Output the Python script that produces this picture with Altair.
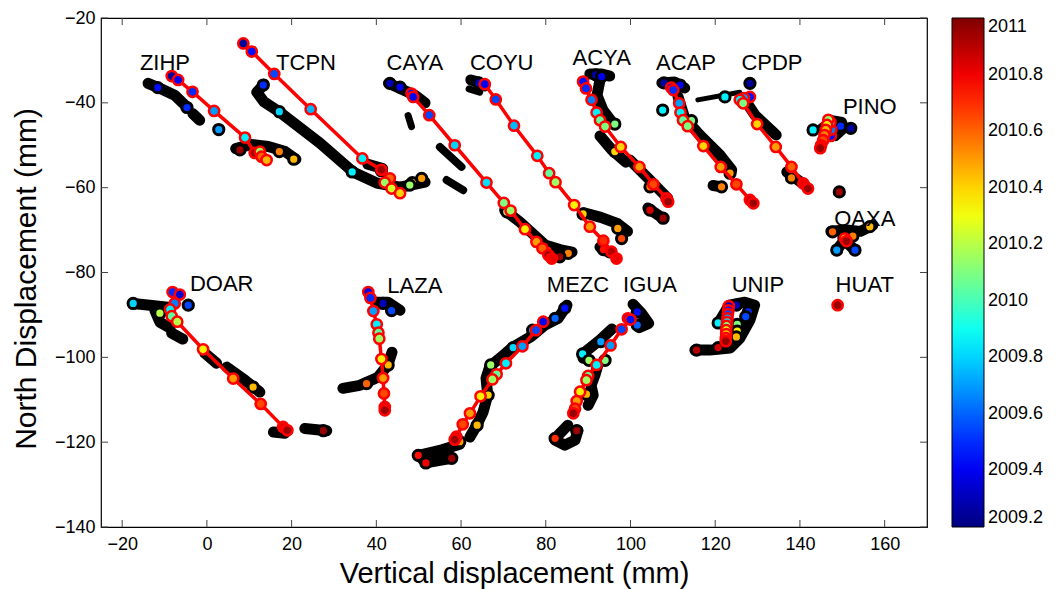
import altair as alt
import pandas as pd

# ---------------- data (mm, mm, decimal year) ----------------
ZIHP_BLACK = [[(-13.9, -35.4), (-11.5, -36.4), (-7.6, -38.2), (-4.8, -40.9)],
              [(-3.3, -42.6), (-1.7, -44.1)],
              [(6.8, -50.8), (10.5, -49.8), (14.5, -50.3), (18.5, -51.5), (21.0, -53.3)]]
ZIHP_PTS = [(-11.6, -36.4, 2009.45), (-4.7, -41.1, 2009.5), (2.8, -46.3, 2009.7),
            (7.8, -51.1, 2010.95), (17.1, -51.5, 2010.55), (20.5, -53.3, 2010.45)]
ZIHP_RED = [(-8.3, -33.7, 2009.25), (-6.8, -34.6, 2009.4), (-3.4, -37.4, 2009.5),
            (1.7, -41.9, 2009.7), (9.0, -48.2, 2009.85), (11.3, -51.8, 2010.95),
            (12.5, -51.5, 2010.15), (12.9, -52.7, 2010.6), (14.1, -53.5, 2010.45)]

TCPN_BLACK = [[(13.5, -35.6), (11.8, -37.5), (13.5, -39.8), (17.2, -42.2), (26.7, -49.5),
               (34.5, -56.3), (40.1, -58.9), (45.6, -59.9), (51.5, -58.7)],
              [(38.0, -54.5), (41.5, -55.5)]]
TCPN_PTS = [(13.3, -35.8, 2009.5), (17.1, -42.1, 2009.8), (34.3, -56.3, 2009.85),
            (41.2, -56.0, 2010.95), (48.5, -58.8, 2010.4), (47.9, -59.4, 2010.15),
            (50.7, -57.8, 2010.5)]
TCPN_RED = [(8.6, -26.0, 2009.25), (10.6, -27.9, 2009.45), (15.9, -33.2, 2009.55),
            (24.5, -41.5, 2009.75), (36.7, -53.1, 2009.85), (41.2, -55.8, 2010.95),
            (43.2, -57.8, 2010.6), (42.0, -58.8, 2010.15), (43.6, -60.2, 2010.25),
            (45.6, -61.3, 2010.4)]

CAYA_BLACK = [[(42.9, -35.4), (45.6, -36.6), (49.1, -38.2), (51.5, -40.0)],
              [(47.5, -43.0), (48.3, -45.6)],
              [(55.0, -50.4), (60.1, -55.1)],
              [(56.6, -58.2), (60.5, -60.6)],
              [(70.3, -65.3), (73.9, -68.1), (79.8, -73.5), (83.3, -74.6), (86.2, -75.2)]]
CAYA_PTS = [(43.2, -35.4, 2009.3), (45.6, -36.3, 2009.4), (70.8, -65.7, 2010.2),
            (85.3, -75.5, 2010.55), (83.3, -76.3, 2010.95), (80.5, -74.8, 2010.7)]
CAYA_RED = [(48.3, -37.8, 2009.45), (48.7, -38.6, 2009.4), (52.5, -42.9, 2009.55),
            (58.5, -50.0, 2009.8), (66.0, -58.8, 2009.82), (70.1, -63.6, 2010.1),
            (71.7, -65.4, 2010.15), (75.1, -69.8, 2010.35), (77.8, -72.8, 2010.5),
            (79.2, -74.3, 2010.6), (80.6, -75.9, 2010.95), (81.4, -76.7, 2010.8)]

COYU_BLACK = [[(62.3, -34.6), (64.0, -35.1), (65.6, -36.0)],
              [(61.9, -36.7), (64.4, -37.5)],
              [(89.0, -65.9), (93.0, -67.0), (97.0, -68.5), (99.3, -70.3)],
              [(92.8, -74.0), (95.1, -75.4)]]
COYU_PTS = [(64.2, -35.3, 2009.3), (88.8, -66.2, 2010.4), (97.0, -69.6, 2010.5),
            (97.9, -72.0, 2010.65), (93.6, -74.6, 2010.75)]
COYU_RED = [(65.6, -35.6, 2009.4), (68.2, -39.2, 2009.55), (72.5, -45.4, 2009.75),
            (78.0, -52.5, 2009.85), (80.8, -56.6, 2010.05), (82.3, -58.7, 2010.15),
            (86.7, -64.1, 2010.35), (90.4, -69.2, 2010.5), (93.6, -72.5, 2010.7),
            (95.5, -75.1, 2010.9), (96.7, -76.7, 2010.8)]

ACYA_BLACK = [[(90.4, -33.2), (93.2, -33.2), (95.1, -33.7)],
              [(92.8, -34.6), (92.1, -38.2), (93.5, -41.7), (95.6, -44.5)],
              [(92.8, -47.8), (95.6, -51.1), (98.9, -54.0)],
              [(99.9, -53.5), (104.6, -58.2), (108.8, -62.5)],
              [(104.1, -64.8), (107.6, -67.2)]]
ACYA_PTS = [(91.8, -33.4, 2009.3), (93.2, -33.8, 2009.4), (96.3, -45.0, 2010.1),
            (96.3, -51.5, 2010.4), (104.6, -59.8, 2010.55), (104.6, -65.3, 2010.85),
            (107.7, -67.2, 2010.95)]
ACYA_RED = [(88.8, -35.0, 2009.45), (89.5, -36.6, 2009.5), (90.8, -39.3, 2009.65),
            (92.0, -42.3, 2009.85), (92.8, -44.1, 2010.05), (94.0, -45.6, 2010.1),
            (97.7, -50.4, 2010.4), (102.1, -55.1, 2010.5), (105.4, -59.2, 2010.65),
            (108.5, -62.5, 2010.85), (108.9, -63.3, 2010.95)]

ACAP_BLACK = [[(107.4, -35.3), (110.4, -35.1), (112.8, -36.5)],
              [(111.2, -38.5), (112.8, -43.6), (116.4, -47.6), (121.1, -52.3), (123.9, -55.8)],
              [(119.5, -59.5), (121.5, -59.8)]]
ACAP_PTS = [(107.9, -35.3, 2009.25), (111.7, -35.8, 2009.4), (107.6, -41.7, 2009.85),
            (114.4, -44.2, 2010.1), (123.5, -56.6, 2010.5), (121.5, -59.8, 2010.55)]
ACAP_RED = [(109.6, -36.4, 2009.4), (110.1, -37.0, 2009.5), (111.5, -40.1, 2009.7),
            (111.8, -42.3, 2009.85), (112.4, -44.1, 2010.05), (113.5, -45.5, 2010.1),
            (117.2, -50.2, 2010.4), (121.3, -55.1, 2010.5), (125.0, -59.2, 2010.65),
            (128.2, -62.9, 2010.85), (129.0, -63.7, 2010.95)]

CPDP_BLACK = [[(115.9, -39.3), (125.8, -37.5)],
              [(127.0, -39.3), (129.4, -42.9), (134.4, -47.6)],
              [(136.9, -56.3), (141.2, -59.4)]]
CPDP_PTS = [(128.2, -35.4, 2009.25), (122.3, -38.6, 2009.85), (138.0, -57.7, 2010.55)]
CPDP_RED = [(128.2, -38.6, 2009.45), (126.8, -38.9, 2009.7), (125.8, -39.3, 2009.85),
            (126.6, -40.1, 2010.1), (129.9, -45.0, 2010.4), (134.3, -50.4, 2010.5),
            (138.0, -55.1, 2010.6), (140.8, -59.0, 2010.8), (141.9, -60.2, 2010.95)]

PINO_BLACK = [[(144.9, -46.0), (147.6, -44.0), (150.0, -44.4), (150.6, -46.0), (148.4, -48.0)]]
PINO_PTS = [(143.1, -46.4, 2009.85), (149.6, -45.5, 2009.5), (152.0, -46.0, 2009.25),
            (149.3, -61.0, 2010.95)]
PINO_RED = [(147.3, -47.8, 2009.45), (147.4, -46.3, 2009.65), (147.2, -44.6, 2009.9),
            (146.7, -44.0, 2010.15), (146.4, -45.2, 2010.35), (146.1, -46.4, 2010.45),
            (145.8, -47.6, 2010.55), (145.5, -48.8, 2010.65), (145.0, -50.0, 2010.8),
            (144.8, -50.7, 2010.95)]

OAXA_BLACK = [[(147.3, -70.3), (151.0, -70.0), (154.3, -70.3), (157.2, -68.9)],
              [(148.6, -74.7), (150.5, -72.5), (153.0, -74.7)]]
OAXA_PTS = [(147.7, -70.4, 2010.6), (156.5, -69.2, 2010.45), (148.7, -74.7, 2009.7),
            (153.0, -74.7, 2009.55), (150.4, -71.9, 2009.3), (152.5, -71.4, 2010.55)]
OAXA_RED = [(150.6, -72.0, 2010.3), (151.0, -72.6, 2010.95)]

DOAR_BLACK = [[(-17.4, -87.3), (-13.5, -87.7), (-9.2, -88.2)],
              [(-12.3, -88.9), (-11.1, -91.7), (-8.7, -93.1)],
              [(-8.3, -94.3), (-5.7, -95.7)],
              [(-0.5, -99.0), (2.3, -101.4)],
              [(4.7, -102.3), (9.0, -105.4), (12.5, -108.2)],
              [(15.7, -117.6), (18.4, -117.9)],
              [(23.1, -116.8), (28.3, -117.3)]]
DOAR_PTS = [(-17.4, -87.3, 2009.8), (-4.4, -87.7, 2009.55), (-11.1, -89.6, 2010.2),
            (10.9, -107.0, 2010.45), (27.5, -117.3, 2010.95)]
DOAR_RED = [(-8.1, -84.6, 2009.5), (-6.4, -85.2, 2009.35), (-7.6, -87.3, 2009.65),
            (-8.7, -88.7, 2009.85), (-8.3, -90.3, 2010.05), (-7.0, -91.6, 2010.2),
            (-0.9, -98.1, 2010.35), (6.2, -105.0, 2010.5), (12.7, -111.0, 2010.65),
            (18.0, -116.4, 2010.8), (19.0, -117.2, 2010.95)]

LAZA_BLACK = [[(39.9, -87.0), (42.7, -87.0), (45.6, -88.9)],
              [(43.7, -98.8), (42.7, -101.8), (40.4, -104.7), (36.1, -106.6), (32.1, -107.3)]]
LAZA_PTS = [(41.6, -87.3, 2009.3), (43.6, -89.0, 2009.55), (42.8, -101.8, 2010.45),
            (37.7, -106.2, 2010.6)]
LAZA_RED = [(38.1, -84.6, 2009.4), (38.6, -86.0, 2009.5), (39.3, -89.1, 2009.7),
            (40.1, -92.2, 2009.85), (40.5, -94.2, 2010.05), (40.7, -95.6, 2010.15),
            (41.2, -100.4, 2010.35), (41.6, -104.9, 2010.5), (41.8, -108.5, 2010.65),
            (42.0, -111.7, 2010.85), (42.0, -112.5, 2010.95)]

MEZC_BLACK = [[(85.0, -87.7), (82.9, -90.8), (79.8, -92.4), (76.7, -95.0), (72.2, -97.6),
               (69.2, -100.2), (66.8, -102.1), (65.9, -104.9), (66.3, -108.9),
               (65.2, -112.9), (63.7, -116.0), (62.1, -118.8)],
              [(59.7, -120.5), (55.5, -121.8), (50.0, -123.1), (51.7, -124.9),
               (55.0, -124.3), (57.8, -123.8)]]
MEZC_PTS = [(84.5, -88.4, 2009.45), (82.2, -90.8, 2009.6), (76.9, -93.6, 2009.7),
            (72.3, -97.7, 2009.8), (67.0, -101.8, 2010.15), (66.4, -108.9, 2010.4),
            (63.8, -116.0, 2010.45), (59.7, -119.9, 2010.5), (49.9, -123.1, 2010.75),
            (51.7, -124.9, 2010.8), (57.8, -123.8, 2010.95)]
MEZC_RED = [(79.4, -91.6, 2009.4), (77.7, -93.6, 2009.55), (74.5, -97.4, 2009.7),
            (70.6, -101.4, 2009.85), (68.4, -104.0, 2010.05), (67.4, -105.2, 2010.15),
            (64.6, -109.2, 2010.35), (62.1, -113.2, 2010.5), (60.4, -115.8, 2010.65),
            (58.9, -118.7, 2010.85), (58.5, -119.4, 2010.95)]

IGUA_BLACK = [[(100.6, -87.5), (102.5, -89.5), (104.3, -92.0), (102.0, -93.0)],
              [(95.6, -93.3), (92.8, -95.9), (89.2, -98.8), (88.8, -100.2)],
              [(92.3, -101.8), (91.6, -104.2), (90.7, -106.6), (91.2, -108.9), (90.0, -111.3)],
              [(85.2, -116.0), (82.9, -118.4), (82.2, -119.5), (84.5, -120.7),
               (86.9, -119.5), (87.6, -117.2)]]
IGUA_PTS = [(101.6, -89.3, 2009.45), (101.6, -92.4, 2009.6), (93.0, -96.3, 2009.7),
            (88.7, -99.2, 2009.85), (90.2, -100.7, 2010.15), (94.0, -100.7, 2010.1),
            (89.6, -108.7, 2010.45), (87.3, -117.3, 2010.95), (82.2, -119.1, 2010.7)]
IGUA_RED = [(99.4, -90.8, 2009.35), (100.0, -91.1, 2009.45), (97.9, -93.4, 2009.55),
            (95.3, -97.2, 2009.7), (92.0, -101.8, 2009.85), (90.0, -104.4, 2010.05),
            (89.6, -105.4, 2010.15), (88.1, -108.1, 2010.35), (87.3, -110.3, 2010.5),
            (86.9, -112.1, 2010.65), (86.5, -113.2, 2010.95)]

UNIP_BLACK = [[(120.9, -91.7), (123.3, -87.7), (127.0, -87.0), (129.3, -87.7), (128.2, -91.2),
               (125.8, -95.5), (123.5, -97.8), (118.7, -98.3), (115.2, -98.3)]]
UNIP_PTS = [(125.0, -87.7, 2009.3), (127.8, -89.3, 2009.5), (127.2, -90.4, 2009.55),
            (120.7, -91.9, 2009.85), (125.2, -92.2, 2010.1), (125.2, -93.8, 2010.35),
            (125.0, -95.2, 2010.45), (115.6, -98.3, 2010.9), (120.7, -97.7, 2010.85)]
UNIP_RED = [(123.2, -87.9, 2009.3), (123.1, -88.9, 2009.45), (123.0, -89.8, 2009.55),
            (122.9, -90.8, 2009.7), (122.8, -91.7, 2009.85), (122.7, -92.6, 2010.1),
            (122.6, -93.6, 2010.3), (122.6, -94.5, 2010.45), (122.5, -95.5, 2010.6),
            (122.5, -96.2, 2010.95)]

HUAT_BLACK = []
HUAT_PTS = []
HUAT_RED = [(148.9, -87.7, 2010.95)]

STATION_NAMES = ["ZIHP", "TCPN", "CAYA", "COYU", "ACYA", "ACAP", "CPDP", "PINO", "OAXA",
                 "DOAR", "LAZA", "MEZC", "IGUA", "UNIP", "HUAT"]
LABEL_X = [-9.9, 23.4, 49.1, 69.6, 93.2, 113.1, 133.4, 156.5, 155.3,
           3.5, 49.1, 87.6, 104.6, 130.1, 155.3]
LABEL_Y = [-30.6, -30.6, -30.6, -30.6, -29.4, -30.6, -30.6, -41.0, -67.4,
           -82.7, -83.2, -83.0, -83.0, -83.0, -83.0]

X_TICKS = [-20, 0, 20, 40, 60, 80, 100, 120, 140, 160]
Y_TICKS = [-140, -120, -100, -80, -60, -40, -20]
CBAR_TICKS = [2009.2, 2009.4, 2009.6, 2009.8, 2010.0, 2010.2, 2010.4, 2010.6, 2010.8, 2011.0]
CBAR_RANGE = [2009.2, 2011.0]

# ---------------- tables ----------------
ALL = {
    "ZIHP": (ZIHP_BLACK, ZIHP_PTS, ZIHP_RED), "TCPN": (TCPN_BLACK, TCPN_PTS, TCPN_RED),
    "CAYA": (CAYA_BLACK, CAYA_PTS, CAYA_RED), "COYU": (COYU_BLACK, COYU_PTS, COYU_RED),
    "ACYA": (ACYA_BLACK, ACYA_PTS, ACYA_RED), "ACAP": (ACAP_BLACK, ACAP_PTS, ACAP_RED),
    "CPDP": (CPDP_BLACK, CPDP_PTS, CPDP_RED), "PINO": (PINO_BLACK, PINO_PTS, PINO_RED),
    "OAXA": (OAXA_BLACK, OAXA_PTS, OAXA_RED), "DOAR": (DOAR_BLACK, DOAR_PTS, DOAR_RED),
    "LAZA": (LAZA_BLACK, LAZA_PTS, LAZA_RED), "MEZC": (MEZC_BLACK, MEZC_PTS, MEZC_RED),
    "IGUA": (IGUA_BLACK, IGUA_PTS, IGUA_RED), "UNIP": (UNIP_BLACK, UNIP_PTS, UNIP_RED),
    "HUAT": (HUAT_BLACK, HUAT_PTS, HUAT_RED),
}
# thinner fragments of the black tracks (station, segment index) -> stroke width
THIN = {("CPDP", 0): 5, ("CAYA", 1): 7, ("CAYA", 2): 8, ("CAYA", 3): 8, ("COYU", 1): 7,
        ("PINO", 0): 9}

black_rows, pt_rows, red_rows = [], [], []
for st, (segs, pts, reds) in ALL.items():
    for k, seg in enumerate(segs):
        w = THIN.get((st, k), 11)
        for i, (x, y) in enumerate(seg):
            black_rows.append({"seg": f"{st}_{k}", "i": i, "x": x, "y": y, "w": w})
    for (x, y, t) in pts:
        pt_rows.append({"st": st, "x": x, "y": y, "t": t})
    for i, (x, y, t) in enumerate(reds):
        red_rows.append({"st": st, "i": i, "x": x, "y": y, "t": t})

black_df = pd.DataFrame(black_rows)
pt_df = pd.DataFrame(pt_rows)
red_df = pd.DataFrame(red_rows)
lab_df = pd.DataFrame({"name": STATION_NAMES, "x": LABEL_X, "y": LABEL_Y})

FONT = "Liberation Sans"
W, H = 826, 509
Y_DOM = [-140, -20]

XS = alt.Scale(domain=[-25, 170], nice=False, zero=False)
YS = alt.Scale(domain=Y_DOM, nice=False, zero=False)

x_axis = alt.Axis(values=X_TICKS, ticks=False, domain=False, grid=False, labelFlush=False,
                  labelFontSize=18, labelFont=FONT, labelColor="black", labelPadding=8,
                  title="Vertical displacement (mm)", titleFont=FONT, titleFontSize=29,
                  titleFontWeight="normal", titleColor="black", titleX=W / 2, titleY=46,
                  titleAlign="center", titleBaseline="middle")
y_axis = alt.Axis(values=Y_TICKS, ticks=False, domain=False, grid=False, labelFlush=False,
                  labelFontSize=18, labelFont=FONT, labelColor="black", labelPadding=6,
                  title="North Displacement (mm)", titleFont=FONT, titleFontSize=30,
                  titleFontWeight="normal", titleColor="black", titleX=-75, titleY=H / 2 + 6,
                  titleAngle=-90, titleAlign="center", titleBaseline="middle")

X = alt.X("x:Q", scale=XS, axis=x_axis)
Y = alt.Y("y:Q", scale=YS, axis=y_axis)

JET_DOMAIN = [2009.2, 2009.425, 2009.875, 2010.325, 2010.775, 2011.0]
JET_RANGE = ["#00007f", "#0000ff", "#00ffff", "#ffff00", "#ff0000", "#7f0000"]
CS = alt.Scale(domain=JET_DOMAIN, range=JET_RANGE, interpolate="rgb")
CB_X = W + 25
CB_W = 32
legend = alt.Legend(title=None, orient="none", legendX=CB_X, legendY=0, direction="vertical",
                    gradientLength=H, gradientThickness=CB_W, values=CBAR_TICKS, format=".6~g",
                    labelFontSize=18, labelFont=FONT, labelColor="black", labelOffset=4,
                    labelBaseline="middle", labelOverlap=False,
                    gradientStrokeColor="black", gradientStrokeWidth=1)
COLOR = alt.Color("t:Q", scale=CS, legend=legend)

black_lines = alt.Chart(black_df).mark_line(color="black", strokeCap="round", strokeJoin="round").encode(
    x=X, y=Y, detail="seg:N", order="i:Q",
    strokeWidth=alt.StrokeWidth("w:Q", scale=None, legend=None))

black_pts = alt.Chart(pt_df).mark_circle(size=105, stroke="black", strokeWidth=3, opacity=1).encode(
    x=X, y=Y, color=COLOR)

red_lines = alt.Chart(red_df).mark_line(color="#ff0000", strokeWidth=3.5, strokeJoin="round").encode(
    x=X, y=Y, detail="st:N", order="i:Q")

red_pts = alt.Chart(red_df).mark_circle(size=105, stroke="#ff0000", strokeWidth=2.5, opacity=1).encode(
    x=X, y=Y, color=COLOR, order="i:Q")

labels = alt.Chart(lab_df).mark_text(font=FONT, fontSize=22, color="black",
                                     align="center", baseline="middle").encode(
    x=X, y=Y, text="name:N")

xt_df = pd.DataFrame({"x": X_TICKS})
yt_df = pd.DataFrame({"y": Y_TICKS})
# colorbar tick positions expressed on the shared y scale (colorbar spans the plot height)
cb_df = pd.DataFrame({"y": [Y_DOM[0] + (v - CBAR_RANGE[0]) / (CBAR_RANGE[1] - CBAR_RANGE[0])
                            * (Y_DOM[1] - Y_DOM[0]) for v in CBAR_TICKS[1:-1]]})
TICK = "#444444"
ticks_b = alt.Chart(xt_df).mark_rule(color=TICK, strokeWidth=1).encode(
    x=X, y=alt.value(H), y2=alt.value(H - 7))
ticks_t = alt.Chart(xt_df).mark_rule(color=TICK, strokeWidth=1).encode(
    x=X, y=alt.value(0), y2=alt.value(7))
ticks_l = alt.Chart(yt_df).mark_rule(color=TICK, strokeWidth=1).encode(
    y=Y, x=alt.value(0), x2=alt.value(7))
ticks_r = alt.Chart(yt_df).mark_rule(color=TICK, strokeWidth=1).encode(
    y=Y, x=alt.value(W), x2=alt.value(W - 7))
cb_ticks_l = alt.Chart(cb_df).mark_rule(color="black", strokeWidth=1).encode(
    y=Y, x=alt.value(CB_X), x2=alt.value(CB_X + 5))
cb_ticks_r = alt.Chart(cb_df).mark_rule(color="black", strokeWidth=1).encode(
    y=Y, x=alt.value(CB_X + CB_W - 5), x2=alt.value(CB_X + CB_W))

chart = alt.layer(
    ticks_b, ticks_t, ticks_l, ticks_r,
    black_lines, black_pts, red_lines, red_pts, labels, cb_ticks_l, cb_ticks_r
).properties(
    width=W, height=H,
    autosize=alt.AutoSizeParams(type="none"),
    padding={"left": 93, "top": 10, "right": 118, "bottom": 62},
    background="white",
).configure_view(stroke="black", strokeWidth=1.2)

chart.save("out.html", embed_options={"renderer": "svg", "actions": False})
